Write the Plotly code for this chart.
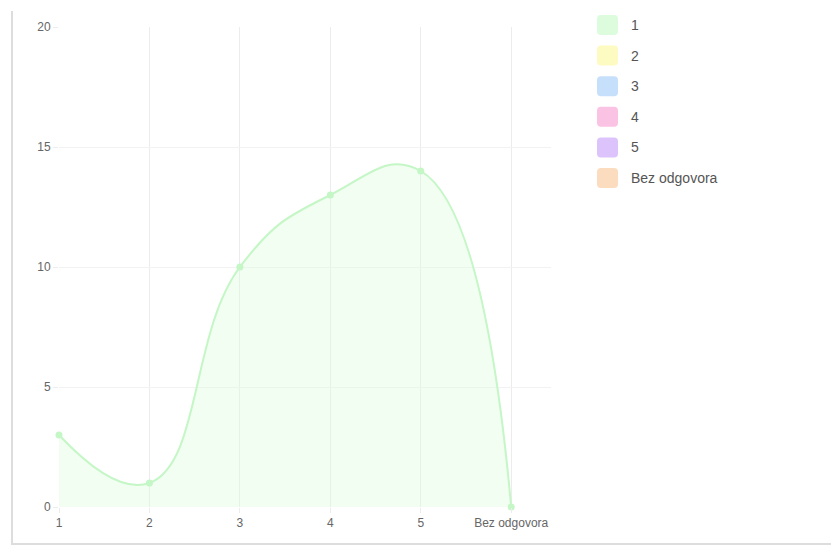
import plotly.graph_objects as go

# data
categories = ["1", "2", "3", "4", "5", "Bez odgovora"]
counts = [3, 1, 10, 13, 14, 0]

legend_labels = ["1", "2", "3", "4", "5", "Bez odgovora"]
legend_colors = ["#dcfcdd", "#fdfbc2", "#c6e0fb", "#fbc3e3", "#dcc3fb", "#fbdcbf"]

LINE_COLOR = "#c4f6c6"
FILL_COLOR = "rgba(220,252,221,0.4)"
GRID_COLOR = "#ececec"

# the page body has an 8px margin, so everything is measured in page px and shifted
OFF = 8
W, H = 839 - 2 * OFF, 553 - 2 * OFF
L, R, T, B = 59 - OFF, 551 - OFF, 27 - OFF, 507 - OFF  # plot area in figure px


def px_x(px):
    return (px - OFF - L) / (R - L)


def px_y(py):
    return (B - (py - OFF)) / (B - T)


def rounded_rect(x0, y0, x1, y1, r=3):
    # path in paper coords, corners given in page px
    ax0, ax1 = px_x(x0), px_x(x1)
    ay0, ay1 = px_y(y0), px_y(y1)
    rx = r / (R - L)
    ry = r / (B - T)
    return (f"M {ax0 + rx},{ay0} L {ax1 - rx},{ay0} Q {ax1},{ay0} {ax1},{ay0 - ry} "
            f"L {ax1},{ay1 + ry} Q {ax1},{ay1} {ax1 - rx},{ay1} "
            f"L {ax0 + rx},{ay1} Q {ax0},{ay1} {ax0},{ay1 + ry} "
            f"L {ax0},{ay0 - ry} Q {ax0},{ay0} {ax0 + rx},{ay0} Z")


fig = go.Figure()
fig.add_trace(go.Scatter(
    x=categories, y=counts,
    mode="lines+markers",
    line=dict(color=LINE_COLOR, width=2, shape="spline", smoothing=1.3),
    marker=dict(color=LINE_COLOR, size=7),
    fill="tozeroy", fillcolor=FILL_COLOR,
    cliponaxis=False,
    showlegend=False,
    hoverinfo="x+y",
))

shapes = [
    # page border lines
    dict(type="line", xref="paper", yref="paper",
         x0=px_x(12), x1=px_x(12), y0=px_y(11), y1=px_y(553),
         line=dict(color="#dddddd", width=2)),
    dict(type="line", xref="paper", yref="paper",
         x0=px_x(12), x1=px_x(839), y0=px_y(544), y1=px_y(544),
         line=dict(color="#dddddd", width=2)),
]
annotations = []
for i, (lab, col) in enumerate(zip(legend_labels, legend_colors)):
    cy = 25 + i * 30.6
    shapes.append(dict(type="path", xref="paper", yref="paper",
                       path=rounded_rect(597, cy - 10, 618, cy + 10, r=4),
                       fillcolor=col, line=dict(width=0)))
    annotations.append(dict(xref="paper", yref="paper", x=px_x(629), y=px_y(cy),
                            text=lab, showarrow=False, xanchor="left", yanchor="middle",
                            font=dict(size=14, color="#555555",
                                      family="Liberation Sans, Arial, sans-serif")))

fig.update_layout(
    width=W, height=H,
    margin=dict(l=L, r=W - R, t=T, b=H - B),
    paper_bgcolor="white", plot_bgcolor="white",
    font=dict(family="Liberation Sans, Arial, sans-serif", size=12, color="#666666"),
    shapes=shapes,
    annotations=annotations,
    showlegend=False,
)
fig.update_xaxes(
    type="category", range=[0, 5.44],
    showgrid=True, gridcolor=GRID_COLOR, gridwidth=1,
    ticks="outside", ticklen=5, tickcolor=GRID_COLOR,
    zeroline=False, showline=False,
    tickfont=dict(size=12, color="#666666"),
)
fig.update_yaxes(
    range=[0, 20], tickvals=[0, 5, 10, 15, 20],
    showgrid=True, gridcolor="#f2f2f2", gridwidth=1,
    ticks="outside", ticklen=5, tickcolor=GRID_COLOR,
    zeroline=False, showline=False,
    tickfont=dict(size=12, color="#666666"),
)

fig.write_html("out.html")
